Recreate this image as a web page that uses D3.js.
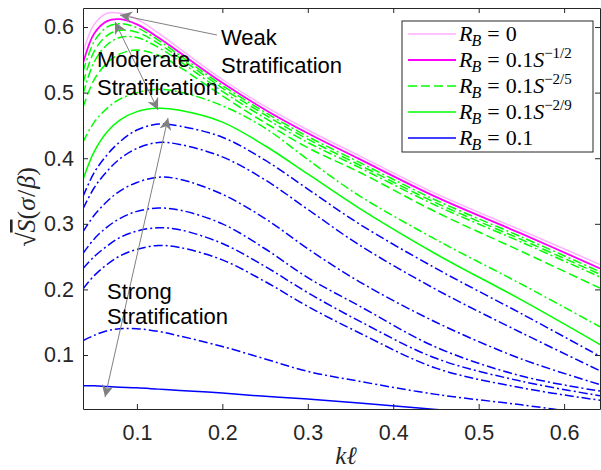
<!DOCTYPE html>
<html>
<head>
<meta charset="utf-8">
<script src="https://cdn.jsdelivr.net/npm/d3@7"></script>
<style>
  body { margin: 0; background: #fff; }
  svg { display: block; }
  .tick text { font-family: "Liberation Sans", Arial, sans-serif; fill: #262626; }
</style>
</head>
<body>
<svg id="chart" width="601" height="470"></svg>
<script>
// wavenumber samples (k*l)
const kl = [0.037, 0.05, 0.065, 0.08, 0.1, 0.125, 0.15, 0.2, 0.25, 0.3, 0.36, 0.45, 0.55, 0.642];

// R_B = 0
const rbZero = [0.562, 0.604, 0.621, 0.621, 0.612, 0.591, 0.567, 0.520, 0.479, 0.443, 0.404, 0.346, 0.290, 0.238];
// R_B = 0.1 S^-1/2
const rbHalf = [0.545, 0.590, 0.609, 0.612, 0.604, 0.584, 0.561, 0.515, 0.474, 0.438, 0.399, 0.341, 0.285, 0.232];
// green family (moderate stratification)
const green1 = [0.532, 0.578, 0.600, 0.605, 0.599, 0.580, 0.557, 0.511, 0.470, 0.433, 0.394, 0.336, 0.280, 0.227];
const green2 = [0.515, 0.563, 0.587, 0.595, 0.592, 0.575, 0.553, 0.507, 0.466, 0.429, 0.390, 0.332, 0.276, 0.223];
const green3 = [0.498, 0.547, 0.573, 0.584, 0.584, 0.569, 0.548, 0.502, 0.461, 0.424, 0.386, 0.328, 0.272, 0.219];
const green4 = [0.478, 0.520, 0.545, 0.559, 0.565, 0.557, 0.539, 0.495, 0.454, 0.416, 0.379, 0.318, 0.258, 0.202];
const green5 = [0.425, 0.455, 0.476, 0.490, 0.500, 0.505, 0.501, 0.480, 0.446, 0.398, 0.343, 0.276, 0.208, 0.143];
const green6 = [0.368, 0.410, 0.440, 0.458, 0.471, 0.476, 0.473, 0.455, 0.419, 0.376, 0.324, 0.254, 0.184, 0.116];
// blue family (strong stratification)
const blue1 = [0.342, 0.378, 0.405, 0.425, 0.443, 0.452, 0.449, 0.432, 0.397, 0.353, 0.300, 0.232, 0.163, 0.098];
const blue2 = [0.323, 0.355, 0.380, 0.399, 0.415, 0.424, 0.421, 0.402, 0.367, 0.322, 0.268, 0.200, 0.134, 0.076];
const blue3 = [0.288, 0.313, 0.334, 0.350, 0.363, 0.371, 0.368, 0.345, 0.308, 0.262, 0.212, 0.150, 0.094, 0.055];
const blue4 = [0.255, 0.277, 0.295, 0.308, 0.319, 0.324, 0.321, 0.300, 0.262, 0.218, 0.175, 0.112, 0.068, 0.045];
const blue5 = [0.232, 0.250, 0.266, 0.279, 0.289, 0.294, 0.291, 0.270, 0.235, 0.195, 0.152, 0.095, 0.060, 0.038];
const blue6 = [0.201, 0.221, 0.238, 0.251, 0.261, 0.267, 0.264, 0.245, 0.212, 0.174, 0.134, 0.080, 0.050, 0.031];
const blue7 = [0.122, 0.130, 0.137, 0.140, 0.140, 0.136, 0.129, 0.113, 0.094, 0.075, 0.060, 0.040, 0.024, 0.008];
const rbTenth = [0.053, 0.053, 0.052, 0.051, 0.050, 0.048, 0.046, 0.042, 0.037, 0.033, 0.027, 0.017, 0.006, -0.004];

const xTicks = [0.1, 0.2, 0.3, 0.4, 0.5, 0.6];
const yTicks = [0.1, 0.2, 0.3, 0.4, 0.5, 0.6];

const PINK = '#ffb0ff', MAGENTA = '#ff00ff', GREEN = '#00ff00', BLUE = '#0000ff';
const DASH = '9,4', DASHDOT = '9,3,2,3';

// drawing order: bottom curves first
const series = [
  { v: rbTenth, color: BLUE, w: 1.5, dash: null },
  { v: blue7, color: BLUE, w: 1.5, dash: DASHDOT },
  { v: blue6, color: BLUE, w: 1.5, dash: DASHDOT },
  { v: blue5, color: BLUE, w: 1.5, dash: DASHDOT },
  { v: blue4, color: BLUE, w: 1.5, dash: DASHDOT },
  { v: blue3, color: BLUE, w: 1.5, dash: DASHDOT },
  { v: blue2, color: BLUE, w: 1.5, dash: DASHDOT },
  { v: blue1, color: BLUE, w: 1.5, dash: DASHDOT },
  { v: green6, color: GREEN, w: 1.5, dash: null },
  { v: green5, color: GREEN, w: 1.5, dash: DASHDOT },
  { v: green4, color: GREEN, w: 1.5, dash: DASH },
  { v: green3, color: GREEN, w: 1.5, dash: DASHDOT },
  { v: green2, color: GREEN, w: 1.5, dash: DASH },
  { v: green1, color: GREEN, w: 1.5, dash: DASHDOT },
  { v: rbZero, color: PINK, w: 1.5, dash: null },
  { v: rbHalf, color: MAGENTA, w: 1.8, dash: null }
];

const width = 601, height = 470;
const margin = { top: 8, right: 1, bottom: 61, left: 83 };
const plotW = width - margin.left - margin.right;
const plotH = height - margin.top - margin.bottom;

const svg = d3.select('#chart');
const g = svg.append('g').attr('transform', `translate(${margin.left},${margin.top})`);

const x = d3.scaleLinear().domain([0.0369, 0.642]).range([0, plotW]);
const y = d3.scaleLinear().domain([0.0177, 0.629]).range([plotH, 0]);

g.append('clipPath').attr('id', 'plot-clip')
  .append('rect').attr('width', plotW).attr('height', plotH);

const line = d3.line()
  .x((d, i) => x(kl[i]))
  .y(d => y(d))
  .curve(d3.curveCatmullRom.alpha(0.5));

// curves
g.append('g').attr('clip-path', 'url(#plot-clip)')
  .selectAll('path')
  .data(series)
  .enter()
  .append('path')
  .attr('d', d => line(d.v))
  .attr('fill', 'none')
  .attr('stroke', d => d.color)
  .attr('stroke-width', d => d.w)
  .attr('stroke-dasharray', d => d.dash);

// axes, ticks pointing inward on all four sides
function styleAxis(sel) {
  sel.select('.domain').attr('stroke', '#262626').attr('stroke-width', 1);
  sel.selectAll('.tick line').attr('stroke', '#262626').attr('stroke-width', 1);
  sel.selectAll('.tick text').style('font-size', '21.5px');
}

g.append('g')
  .attr('transform', `translate(0,${plotH})`)
  .call(d3.axisBottom(x).tickValues(xTicks).tickSize(-5).tickSizeOuter(0).tickPadding(16).tickFormat(d3.format('.1f')))
  .call(styleAxis);

g.append('g')
  .call(d3.axisLeft(y).tickValues(yTicks).tickSize(-5).tickSizeOuter(0).tickPadding(9).tickFormat(d3.format('.1f')))
  .call(styleAxis);

g.append('g')
  .call(d3.axisTop(x).tickValues(xTicks).tickSize(-5).tickSizeOuter(0).tickFormat(''))
  .call(styleAxis);

g.append('g')
  .attr('transform', `translate(${plotW},0)`)
  .call(d3.axisRight(y).tickValues(yTicks).tickSize(-5).tickSizeOuter(0).tickFormat(''))
  .call(styleAxis);

// axis labels
svg.append('text')
  .attr('x', 346).attr('y', 464)
  .attr('text-anchor', 'middle')
  .style('font-family', '"Liberation Serif", "DejaVu Serif", serif')
  .style('font-style', 'italic')
  .style('font-size', '25px')
  .style('fill', '#262626')
  .text('kℓ');

const ylab = svg.append('text')
  .attr('transform', 'translate(35,207) rotate(-90)')
  .attr('text-anchor', 'middle')
  .style('font-family', '"Liberation Serif", "DejaVu Serif", serif')
  .style('font-size', '26px')
  .style('fill', '#262626');
ylab.append('tspan').text('√');
ylab.append('tspan').style('font-style', 'italic').style('text-decoration', 'overline').text('S');
ylab.append('tspan').text('(');
ylab.append('tspan').style('font-style', 'italic').text('σ');
ylab.append('tspan').attr('dx', 1).text('/');
ylab.append('tspan').style('font-style', 'italic').attr('dx', 1).text('β');
ylab.append('tspan').text(')');

// annotations (positions in data units)
const defs = svg.append('defs');
defs.append('marker')
  .attr('id', 'head')
  .attr('viewBox', '0 0 10 10')
  .attr('refX', 10).attr('refY', 5)
  .attr('markerWidth', 12).attr('markerHeight', 12)
  .attr('markerUnits', 'userSpaceOnUse')
  .attr('orient', 'auto-start-reverse')
  .append('path')
  .attr('d', 'M0,0 L10,5 L0,10 L3,5 Z')
  .attr('fill', '#808080');

const arrows = [
  { from: [0.1937, 0.5878], to: [0.0802, 0.6183], both: false },
  { from: [0.0744, 0.6077], to: [0.1247, 0.4735], both: true },
  { from: [0.1364, 0.4613], to: [0.0627, 0.0360], both: true }
];
g.selectAll('.arrow')
  .data(arrows)
  .enter()
  .append('line')
  .attr('class', 'arrow')
  .attr('x1', d => x(d.from[0])).attr('y1', d => y(d.from[1]))
  .attr('x2', d => x(d.to[0])).attr('y2', d => y(d.to[1]))
  .attr('stroke', '#808080')
  .attr('stroke-width', 1)
  .attr('marker-end', 'url(#head)')
  .attr('marker-start', d => d.both ? 'url(#head)' : null);

const notes = [
  { t: 'Weak', at: [0.1984, 0.5726] },
  { t: 'Stratification', at: [0.1984, 0.5300] },
  { t: 'Moderate', at: [0.0533, 0.5390] },
  { t: 'Stratification', at: [0.0533, 0.4964] },
  { t: 'Strong', at: [0.0650, 0.1854] },
  { t: 'Stratification', at: [0.0650, 0.1473] }
];
g.selectAll('.note')
  .data(notes)
  .enter()
  .append('text')
  .attr('class', 'note')
  .attr('x', d => x(d.at[0]))
  .attr('y', d => y(d.at[1]))
  .style('font-family', '"Liberation Sans", Arial, sans-serif')
  .style('font-size', '22px')
  .style('fill', '#000')
  .text(d => d.t);

// legend
const legendItems = [
  { coef: '0', exp: null, color: PINK, w: 1.5, dash: null },
  { coef: '0.1', exp: '−1/2', color: MAGENTA, w: 1.8, dash: null },
  { coef: '0.1', exp: '−2/5', color: GREEN, w: 1.5, dash: DASH },
  { coef: '0.1', exp: '−2/9', color: GREEN, w: 1.5, dash: null },
  { coef: '0.1', exp: null, color: BLUE, w: 1.5, dash: null }
];

const legend = svg.append('g').attr('transform', 'translate(402,21)');
legend.append('rect')
  .attr('width', 191).attr('height', 131)
  .attr('fill', '#fff')
  .attr('stroke', '#262626')
  .attr('stroke-width', 1);

const rows = legend.selectAll('.row')
  .data(legendItems)
  .enter()
  .append('g')
  .attr('class', 'row')
  .attr('transform', (d, i) => `translate(0,${13 + i * 26})`);

rows.append('line')
  .attr('x1', 6).attr('x2', 54)
  .attr('y1', 0).attr('y2', 0)
  .attr('stroke', d => d.color)
  .attr('stroke-width', d => d.w)
  .attr('stroke-dasharray', d => d.dash);

const lt = rows.append('text')
  .attr('x', 57).attr('y', 7)
  .style('font-family', '"Liberation Serif", "DejaVu Serif", serif')
  .style('font-size', '22px')
  .style('fill', '#000');
lt.append('tspan').style('font-style', 'italic').text('R');
lt.append('tspan').style('font-style', 'italic').style('font-size', '16px').attr('dx', -1).attr('dy', 5).text('B');
lt.append('tspan').attr('dy', -5).attr('dx', 6).text('=');
lt.append('tspan').attr('dx', 6).text(d => d.coef);
lt.filter(d => d.exp).append('tspan').style('font-style', 'italic').text('S');
lt.filter(d => d.exp).append('tspan').style('font-size', '15px').attr('dy', -9).text(d => d.exp);
</script>
</body>
</html>
